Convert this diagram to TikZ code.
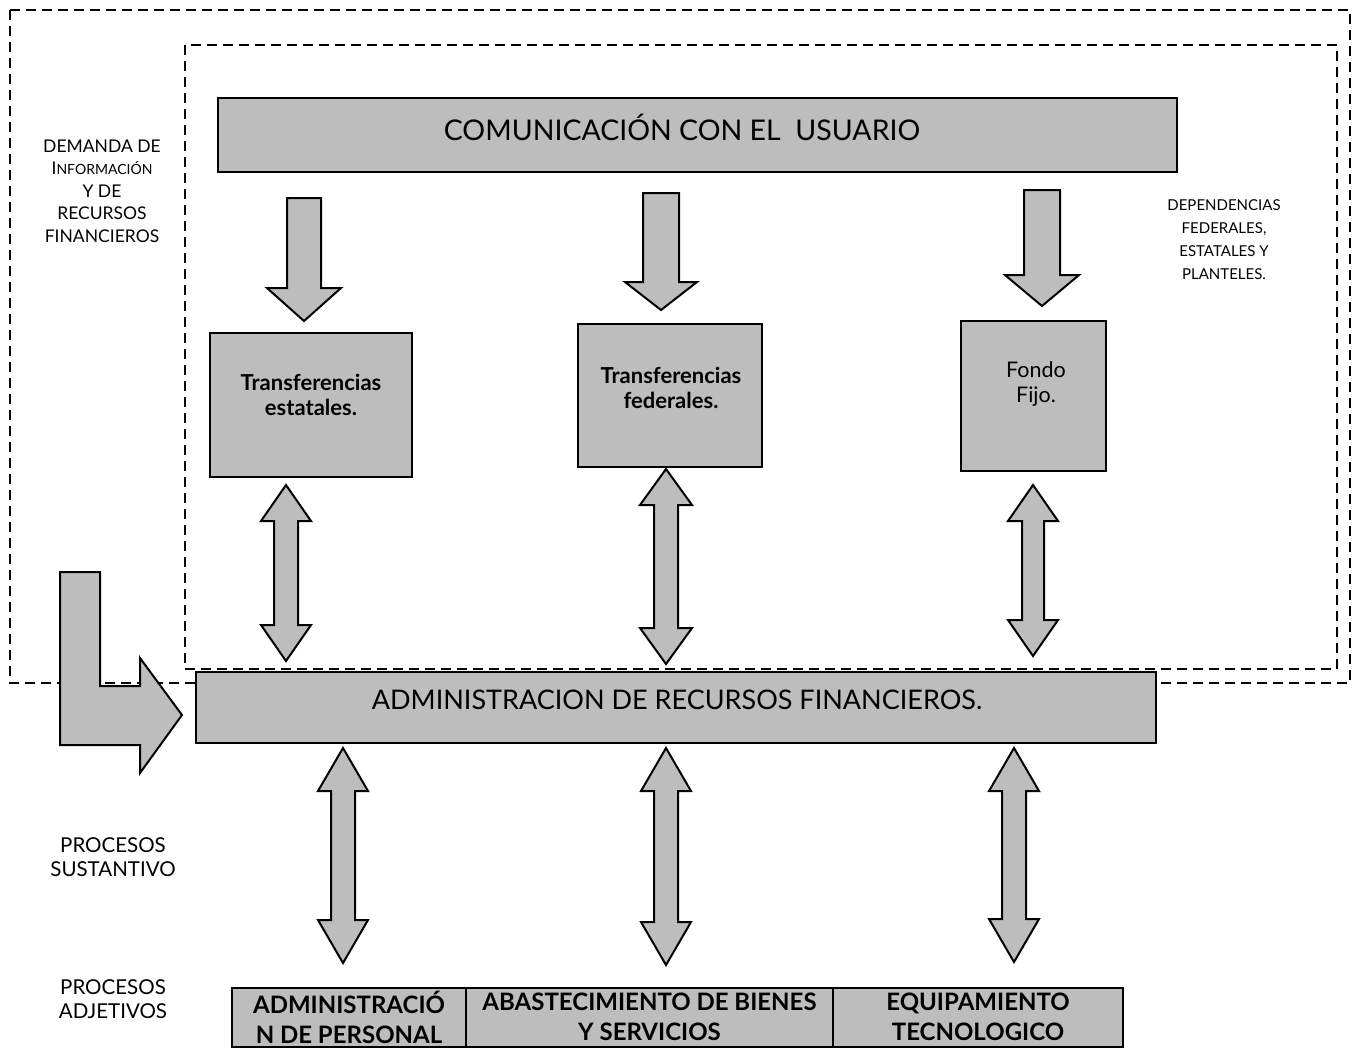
\documentclass[tikz,border=0pt]{standalone}
\usepackage{fontspec}
\setmainfont{Lato}
\usetikzlibrary{calc}
\definecolor{boxgray}{gray}{0.74}
\newcommand{\dnarrow}[6]{% cx top headbase tip shafthalf headhalf
\draw[arr] ({#1-#5},#2) -- ({#1+#5},#2) -- ({#1+#5},#3) -- ({#1+#6},#3) -- (#1,#4) -- ({#1-#6},#3) -- ({#1-#5},#3) -- cycle;}
\newcommand{\dblarrow}[6]{% cx top bottom shafthalf headhalf headlen
\draw[arr] (#1,#2) -- ({#1+#5},{#2+#6}) -- ({#1+#4},{#2+#6}) -- ({#1+#4},{#3-#6}) -- ({#1+#5},{#3-#6}) -- (#1,#3) -- ({#1-#5},{#3-#6}) -- ({#1-#4},{#3-#6}) -- ({#1-#4},{#2+#6}) -- ({#1-#5},{#2+#6}) -- cycle;}
\begin{document}
\begin{tikzpicture}[x=1pt,y=-1pt,
  blk/.style={draw=black, line width=2.6pt, fill=boxgray, inner sep=0pt},
  arr/.style={draw=black, line width=2pt, fill=boxgray, line join=miter},
  dashbox/.style={draw=black, line width=1.8pt, dash pattern=on 10pt off 6pt},
  lbl/.style={align=center, inner sep=0pt, font=\fontsize{17.5}{22.5}\selectfont},
  rlbl/.style={align=center, inner sep=0pt, font=\fontsize{15}{23}\selectfont},
  plbl/.style={align=center, inner sep=0pt, font=\fontsize{20.5}{24}\selectfont},
  big/.style={inner sep=0pt, font=\fontsize{28.5}{32}\selectfont},
  big2/.style={inner sep=0pt, font=\fontsize{27}{32}\selectfont},
  mid/.style={align=center, inner sep=0pt, font=\bfseries\fontsize{22}{25}\selectfont},
  bot/.style={align=center, inner sep=0pt, font=\bfseries\fontsize{24}{30}\selectfont}
]
\useasboundingbox (0,0) rectangle (1354,1050);
% dashed frames
\draw[dashbox] (10,10) rectangle (1350,683);
\draw[dashbox] (185,45) rectangle (1337,669);
% top box
\node[blk, minimum width=959pt, minimum height=74pt] (comm) at (697.5,135) {};
\node[big] (commt) at (682,127) {COMUNICACIÓN CON EL\ \ USUARIO};
% down arrows
\dnarrow{304}{198}{288}{321}{17}{37}
\dnarrow{661}{193}{282}{310}{18}{36}
\dnarrow{1042}{190}{275}{306}{18}{37}
% middle boxes
\node[blk, minimum width=202pt, minimum height=144pt] (b1) at (311,405) {};
\node[mid] (b1t) at (311,395) {Transferencias\\estatales.};
\node[blk, minimum width=184pt, minimum height=143pt] (b2) at (670,395.5) {};
\node[mid] (b2t) at (671,388) {Transferencias\\federales.};
\node[blk, minimum width=145pt, minimum height=150pt] (b3) at (1033.5,396) {};
\node[align=center, inner sep=0pt, font=\fontsize{21.5}{25}\selectfont] (b3t) at (1036,384) {Fondo\\Fijo.};
% double arrows upper
\dblarrow{286}{485}{661}{12}{25}{36}
\dblarrow{666}{469}{664}{12}{26}{36}
\dblarrow{1033}{485}{656}{11}{25}{36}
% L arrow
\draw[arr] (60,572) -- (100,572) -- (100,686) -- (140,686) -- (140,658) -- (182,715) -- (140,773) -- (140,745) -- (60,745) -- cycle;
% admin box
\node[blk, minimum width=960pt, minimum height=71pt] (adm) at (676,707.5) {};
\node[big2] (admt) at (677,700) {ADMINISTRACION DE RECURSOS FINANCIEROS.};
% double arrows lower
\dblarrow{343}{748}{963}{12}{25}{43}
\dblarrow{666}{748}{965}{12}{25}{43}
\dblarrow{1014}{748}{962}{12}{25}{43}
% bottom boxes
\node[blk, minimum width=234pt, minimum height=59pt] (p1) at (349,1017.5) {};
\node[blk, minimum width=367pt, minimum height=59pt] (p2) at (649.5,1017.5) {};
\node[blk, minimum width=290pt, minimum height=59pt] (p3) at (978,1017.5) {};
\node[bot] (p1t) at (349,1017) {ADMINISTRACIÓ\\N DE PERSONAL};
\node[bot] (p2t) at (649.5,1017) {ABASTECIMIENTO DE BIENES\\Y SERVICIOS};
\node[bot] (p3t) at (978,1017) {EQUIPAMIENTO\\TECNOLOGICO};
% side labels
\node[lbl] (dem) at (102,191) {DEMANDA DE\\I{\fontsize{14}{22.5}\selectfont NFORMACIÓN}\\Y DE\\RECURSOS\\FINANCIEROS};
\node[rlbl] (dep) at (1224,240) {DEPENDENCIAS\\FEDERALES,\\ESTATALES Y\\PLANTELES.};
\node[plbl] (ps) at (113,857) {PROCESOS\\SUSTANTIVO};
\node[plbl] (pa) at (113,999) {PROCESOS\\ADJETIVOS};
\end{tikzpicture}
\end{document}
